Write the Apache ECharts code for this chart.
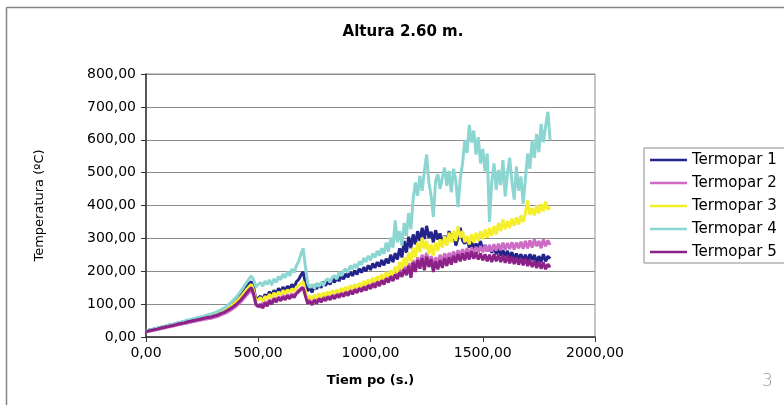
<!DOCTYPE html>
<html>
<head>
<meta charset="utf-8">
<script src="https://cdn.jsdelivr.net/npm/echarts@6/dist/echarts.min.js"></script>
<style>html,body{margin:0;padding:0;background:#fff;}#c{width:784px;height:405px;}</style>
</head>
<body>
<div id="c"></div>
<script>
// time axis (s), one sample every 10 s
var tiempo = [];
for (var k = 0; k <= 180; k++) tiempo.push(k * 10);

var seriesNames = ['Termopar 1', 'Termopar 2', 'Termopar 3', 'Termopar 4', 'Termopar 5'];

var termopar1 = [18,20,22,23,25,27,28,30,32,33,35,37,38,40,42,43,45,47,48,50,52,53,55,57,59,60,62,64,66,68,70,72,75,78,81,85,89,94,99,105,112,119,127,136,146,155,163,168,150,110,118,124,112,130,120,138,125,142,130,148,136,152,140,155,145,160,150,168,175,188,198,165,140,150,136,158,146,162,150,168,156,172,160,178,166,182,170,188,176,192,182,198,186,202,190,208,196,212,200,218,204,224,210,228,214,234,218,238,224,250,228,255,236,270,242,292,256,305,270,312,282,322,292,332,298,338,302,320,288,325,296,315,284,308,288,322,292,318,278,302,332,294,284,302,272,292,266,284,270,292,262,280,260,276,256,274,252,270,248,264,246,262,242,258,238,254,236,252,232,250,230,252,234,250,226,246,228,252,230,246,238];

var termopar2 = [15,17,18,20,21,23,24,26,27,29,30,32,33,35,36,38,39,41,42,44,45,47,48,50,51,52,54,55,56,57,59,61,63,66,69,72,75,79,83,88,93,99,106,113,121,129,136,141,125,95,98,90,102,108,100,114,106,120,110,124,114,127,118,130,120,132,124,137,142,148,152,128,108,114,104,117,108,122,112,124,116,128,118,132,122,135,126,139,130,142,133,147,136,152,140,157,145,162,150,167,155,172,160,177,164,182,170,188,174,194,180,200,186,207,192,214,198,224,206,234,212,242,220,250,228,256,226,246,220,242,226,250,230,254,234,256,238,260,240,264,244,267,248,270,250,272,252,274,256,277,258,278,260,280,260,282,262,284,264,287,266,286,268,288,266,287,270,290,268,292,270,294,272,297,276,292,270,297,276,294,280];

var termopar3 = [17,19,21,22,24,26,27,29,31,32,34,36,37,39,41,42,44,46,47,49,51,52,54,56,57,59,61,63,64,66,68,70,72,75,78,82,86,90,95,100,106,113,120,128,137,146,154,160,140,108,114,120,108,124,116,130,120,134,124,137,128,142,132,144,136,147,138,152,156,163,168,140,118,124,114,128,118,132,122,134,126,138,128,142,132,144,136,148,138,152,142,157,146,160,150,164,153,170,158,174,163,180,168,184,173,190,176,197,183,202,188,214,196,228,206,242,216,258,230,272,243,287,258,302,268,292,252,282,248,287,262,297,272,307,278,317,288,322,292,337,302,322,288,307,282,312,288,317,292,322,298,327,302,332,308,337,312,347,322,357,328,352,332,360,338,364,342,370,350,377,415,372,392,370,400,376,404,383,412,388,395];

var termopar4 = [18,20,22,24,25,27,29,30,32,34,36,38,39,41,43,45,46,48,50,52,53,55,57,59,61,62,64,66,68,70,72,75,78,81,85,89,94,100,106,113,120,128,137,147,158,168,178,186,172,152,160,166,154,170,160,174,158,177,166,184,174,192,180,198,186,207,196,217,230,252,270,215,165,150,160,148,164,153,167,156,172,177,166,182,187,176,197,186,202,207,196,217,206,222,210,230,220,240,228,247,233,254,242,262,248,270,253,287,260,302,272,355,288,322,278,347,308,377,328,420,470,430,490,445,505,555,470,430,365,475,495,450,485,515,460,505,440,512,475,395,482,528,598,560,645,592,628,555,608,528,572,505,558,350,472,528,448,508,462,538,428,498,545,472,418,518,445,488,405,482,558,512,598,545,618,562,648,592,640,685,600];

var termopar5 = [16,18,20,21,23,24,26,28,29,31,32,34,35,37,39,40,42,43,45,47,48,50,51,53,54,56,57,59,60,61,63,65,67,70,73,76,80,84,88,93,98,104,111,119,127,136,144,150,130,100,92,100,88,104,94,110,100,116,106,120,110,122,113,126,116,128,120,132,138,145,150,125,102,108,98,112,102,116,106,118,110,122,113,126,116,129,120,132,123,136,126,140,130,144,134,148,138,152,142,157,146,162,150,167,155,172,160,178,166,184,170,190,176,197,183,207,188,217,180,227,198,234,208,240,203,244,213,237,198,230,206,234,210,240,216,242,220,247,226,252,230,254,233,257,236,260,238,257,236,254,233,252,230,250,228,252,230,250,228,248,226,247,224,244,222,242,220,240,218,238,216,234,213,232,210,230,208,227,206,222,212];

var yTicks = [0, 100, 200, 300, 400, 500, 600, 700, 800];
var xTicks = [0, 500, 1000, 1500, 2000];

var colors = ['#23238a', '#cc6cc4', '#f4ee2c', '#8cd6d2', '#8c2288'];
var allData = [termopar1, termopar2, termopar3, termopar4, termopar5];

function fmt(v) { return v.toFixed(2).replace('.', ','); }

var series = seriesNames.map(function (name, i) {
  return {
    name: name,
    type: 'line',
    showSymbol: false,
    symbol: 'none',
    data: tiempo.map(function (t, j) { return [t, allData[i][j]]; }),
    lineStyle: { color: colors[i], width: 3 },
    itemStyle: { color: colors[i] },
    z: 2 + i
  };
});

var chart = echarts.init(document.getElementById('c'), null, { renderer: 'canvas' });
chart.setOption({
  animation: false,
  backgroundColor: '#ffffff',
  title: {
    text: 'Altura 2.60 m.',
    left: 398, top: 20, textAlign: 'center',
    textStyle: { fontFamily: 'DejaVu Sans', fontWeight: 'bold', fontSize: 15, color: '#000' }
  },
  grid: {
    left: 146, right: 189, top: 74, bottom: 68,
    show: true, borderColor: '#8c8c8c', borderWidth: 1, backgroundColor: 'transparent'
  },
  xAxis: {
    type: 'value', min: xTicks[0], max: xTicks[xTicks.length - 1], interval: 500,
    name: 'Tiem po (s.)', nameLocation: 'middle', nameGap: 37,
    nameTextStyle: { fontFamily: 'DejaVu Sans', fontWeight: 'bold', fontSize: 13, color: '#000' },
    axisLine: { show: true, lineStyle: { color: '#333', width: 1.5 } },
    axisTick: { show: true, length: 5, lineStyle: { color: '#333' } },
    axisLabel: { fontFamily: 'DejaVu Sans', fontSize: 14, color: '#000', margin: 9, formatter: fmt },
    splitLine: { show: false }
  },
  yAxis: {
    type: 'value', min: yTicks[0], max: yTicks[yTicks.length - 1], interval: 100,
    name: 'Temperatura (ºC)', nameLocation: 'middle', nameGap: 100,
    nameTextStyle: { fontFamily: 'DejaVu Sans', fontSize: 13, color: '#000' },
    axisLine: { show: true, lineStyle: { color: '#333', width: 1.5 } },
    axisTick: { show: true, length: 5, lineStyle: { color: '#333' } },
    axisLabel: { fontFamily: 'DejaVu Sans', fontSize: 14, color: '#000', margin: 10, formatter: fmt },
    splitLine: { show: true, lineStyle: { color: '#8c8c8c', width: 1 } }
  },
  legend: {
    orient: 'vertical', left: 644, top: 148,
    padding: [4, 10, 3, 6], itemGap: 7,
    borderColor: '#8c8c8c', borderWidth: 1,
    icon: 'rect', itemWidth: 37, itemHeight: 2.5,
    textStyle: { fontFamily: 'DejaVu Sans', fontSize: 15, color: '#000', lineHeight: 16 },
    data: seriesNames
  },
  graphic: [
    { type: 'line', shape: { x1: 6.5, y1: 7.5, x2: 784, y2: 7.5 }, style: { stroke: '#858585', lineWidth: 1.5 } },
    { type: 'line', shape: { x1: 6.5, y1: 7.5, x2: 6.5, y2: 405 }, style: { stroke: '#858585', lineWidth: 1.5 } },
    { type: 'text', left: 762, top: 373, style: { text: '3', fontFamily: 'DejaVu Sans', fontSize: 17, fontWeight: 200, fill: '#9a9a9a' } }
  ],
  series: series
});
</script>
</body>
</html>
